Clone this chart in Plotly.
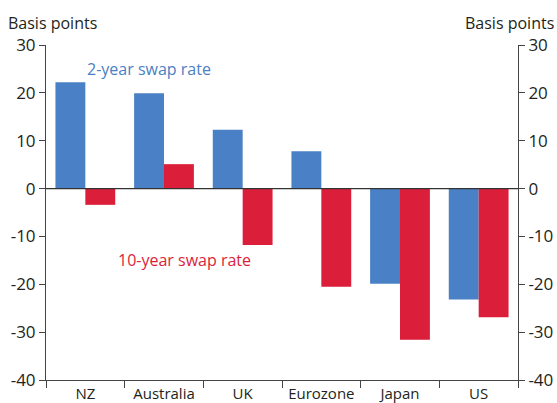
import plotly.graph_objects as go

categories = ["NZ", "Australia", "UK", "Eurozone", "Japan", "US"]
swap_2y = [22.2, 19.9, 12.3, 7.8, -19.9, -23.2]
swap_10y = [-3.4, 5.1, -11.8, -20.5, -31.6, -26.9]
tick_vals = [-40, -30, -20, -10, 0, 10, 20, 30]
tick_text = ["-40", "-30", "-20", "-10", "0", "10", "20", "30"]

blue = "#4a80c5"
red = "#db1e3a"
txt = "#231f20"
font = "Open Sans"

fig = go.Figure()
fig.add_trace(go.Bar(x=categories, y=swap_2y, marker=dict(color=blue, line=dict(width=0)),
                     name="2-year swap rate", showlegend=False, hoverinfo="skip"))
fig.add_trace(go.Bar(x=categories, y=swap_10y, marker=dict(color=red, line=dict(width=0)),
                     name="10-year swap rate", showlegend=False, hoverinfo="skip"))
# invisible trace to activate the right-hand axis
fig.add_trace(go.Scatter(x=categories, y=swap_2y, yaxis="y2", mode="markers",
                         marker=dict(opacity=0), showlegend=False, hoverinfo="skip"))

axis_common = dict(range=[-40, 30], tickvals=tick_vals, ticktext=tick_text,
                   showgrid=False, zeroline=False,
                   showline=True, linecolor="#444", linewidth=1, ticks="outside",
                   ticklen=6, tickcolor="#444", automargin=False,
                   tickfont=dict(size=17, color=txt, family=font))

fig.update_layout(
    width=557, height=403,
    margin=dict(l=46, r=39, t=45, b=23, autoexpand=False),
    paper_bgcolor="white", plot_bgcolor="white",
    barmode="group", bargap=0.24, bargroupgap=0,
    font=dict(family=font, color=txt),
    xaxis=dict(type="category", tickson="boundaries", ticks="outside", ticklen=7,
               tickcolor="#444", showline=True, linecolor="#444", linewidth=1,
               showgrid=False, automargin=False,
               tickfont=dict(size=15, color=txt, family=font)),
    yaxis=dict(side="left", **axis_common),
    yaxis2=dict(side="right", overlaying="y", **axis_common),
    shapes=[dict(type="line", xref="paper", x0=0, x1=1, yref="y", y0=0, y1=0,
                 line=dict(color="#333", width=1.2))],
    annotations=[
        dict(text="Basis points", xref="paper", yref="paper", x=-0.085, y=1.0, yshift=22,
             xanchor="left", yanchor="middle", showarrow=False, font=dict(size=16, color=txt)),
        dict(text="Basis points", xref="paper", yref="paper", x=1.08, y=1.0, yshift=22,
             xanchor="right", yanchor="middle", showarrow=False, font=dict(size=16, color=txt)),
        dict(text="2-year swap rate", xref="x", yref="y", x=0.0, y=25.0,
             xanchor="left", yanchor="middle", showarrow=False, font=dict(size=16, color=blue)),
        dict(text="10-year swap rate", xref="x", yref="y", x=0.39, y=-15.0,
             xanchor="left", yanchor="middle", showarrow=False, font=dict(size=16, color=red)),
    ],
)

fig.write_html("out.html", config={"displayModeBar": False},
               post_script="document.body.style.margin='0';document.body.style.overflow='hidden';")
